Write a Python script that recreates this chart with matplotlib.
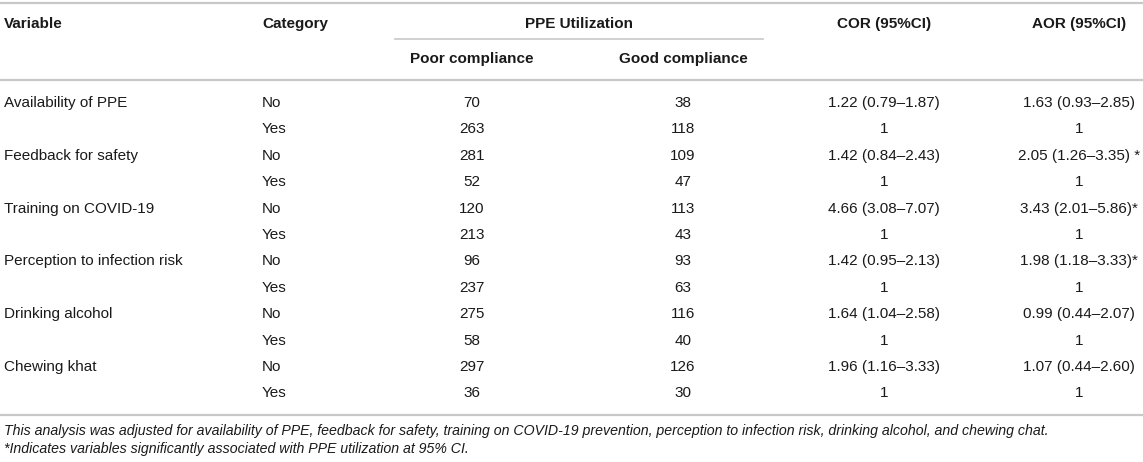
import matplotlib.pyplot as plt

plt.rcParams['font.family'] = ['Liberation Sans', 'DejaVu Sans']

variables = ['Availability of PPE', 'Feedback for safety', 'Training on COVID-19',
             'Perception to infection risk', 'Drinking alcohol', 'Chewing khat']
categories = ['No', 'Yes']
poor = [70, 263, 281, 52, 120, 213, 96, 237, 275, 58, 297, 36]
good = [38, 118, 109, 47, 113, 43, 93, 63, 116, 40, 126, 30]
cor = ['1.22 (0.79–1.87)', '1', '1.42 (0.84–2.43)', '1', '4.66 (3.08–7.07)', '1',
       '1.42 (0.95–2.13)', '1', '1.64 (1.04–2.58)', '1', '1.96 (1.16–3.33)', '1']
aor = ['1.63 (0.93–2.85)', '1', '2.05 (1.26–3.35) *', '1', '3.43 (2.01–5.86)*', '1',
       '1.98 (1.18–3.33)*', '1', '0.99 (0.44–2.07)', '1', '1.07 (0.44–2.60)', '1']
footnotes = ['This analysis was adjusted for availability of PPE, feedback for safety, training on COVID-19 prevention, '
             'perception to infection risk, drinking alcohol, and chewing chat.',
             '*Indicates variables significantly associated with PPE utilization at 95% CI.']

fig = plt.figure(figsize=(11.43, 4.62), dpi=100)
ax = fig.add_axes([0, 0, 1, 1])
ax.set_xlim(0, 1143)
ax.set_ylim(462, 0)
ax.axis('off')

fs = 11
tc = '#1a1a1a'
lc = '#c8c8c8'

# column x positions
x_var, x_cat = 4, 262
x_poor, x_good, x_cor, x_aor = 472, 683, 884, 1079

# rules
ax.plot([0, 1143], [3, 3], color=lc, lw=1.6)
ax.plot([395, 763], [39, 39], color=lc, lw=1.2)
ax.plot([0, 1143], [80, 80], color=lc, lw=1.6)
ax.plot([0, 1143], [415, 415], color=lc, lw=1.6)

# header
hdr = dict(fontsize=fs, weight='bold', color=tc, va='center')
ax.text(x_var, 24, 'Variable', **hdr)
ax.text(x_cat, 24, 'Category', **hdr)
ax.text(579, 24, 'PPE Utilization', ha='center', **hdr)
ax.text(x_cor, 24, 'COR (95%CI)', ha='center', **hdr)
ax.text(x_aor, 24, 'AOR (95%CI)', ha='center', **hdr)
ax.text(x_poor, 59, 'Poor compliance', ha='center', **hdr)
ax.text(x_good, 59, 'Good compliance', ha='center', **hdr)

y0 = 103
dy = 26.4
body = dict(fontsize=fs, color=tc, va='center')
for i in range(len(poor)):
    y = y0 + i * dy
    if i % 2 == 0:
        ax.text(x_var, y, variables[i // 2], **body)
    ax.text(x_cat, y, categories[i % 2], **body)
    ax.text(x_poor, y, str(poor[i]), ha='center', **body)
    ax.text(x_good, y, str(good[i]), ha='center', **body)
    ax.text(x_cor, y, cor[i], ha='center', **body)
    ax.text(x_aor, y, aor[i], ha='center', **body)

ax.text(x_var, 431, footnotes[0], fontsize=10.2, style='italic', color=tc, va='center')
ax.text(x_var, 449, footnotes[1], fontsize=10.2, style='italic', color=tc, va='center')

fig.savefig('out.png', dpi=100)
